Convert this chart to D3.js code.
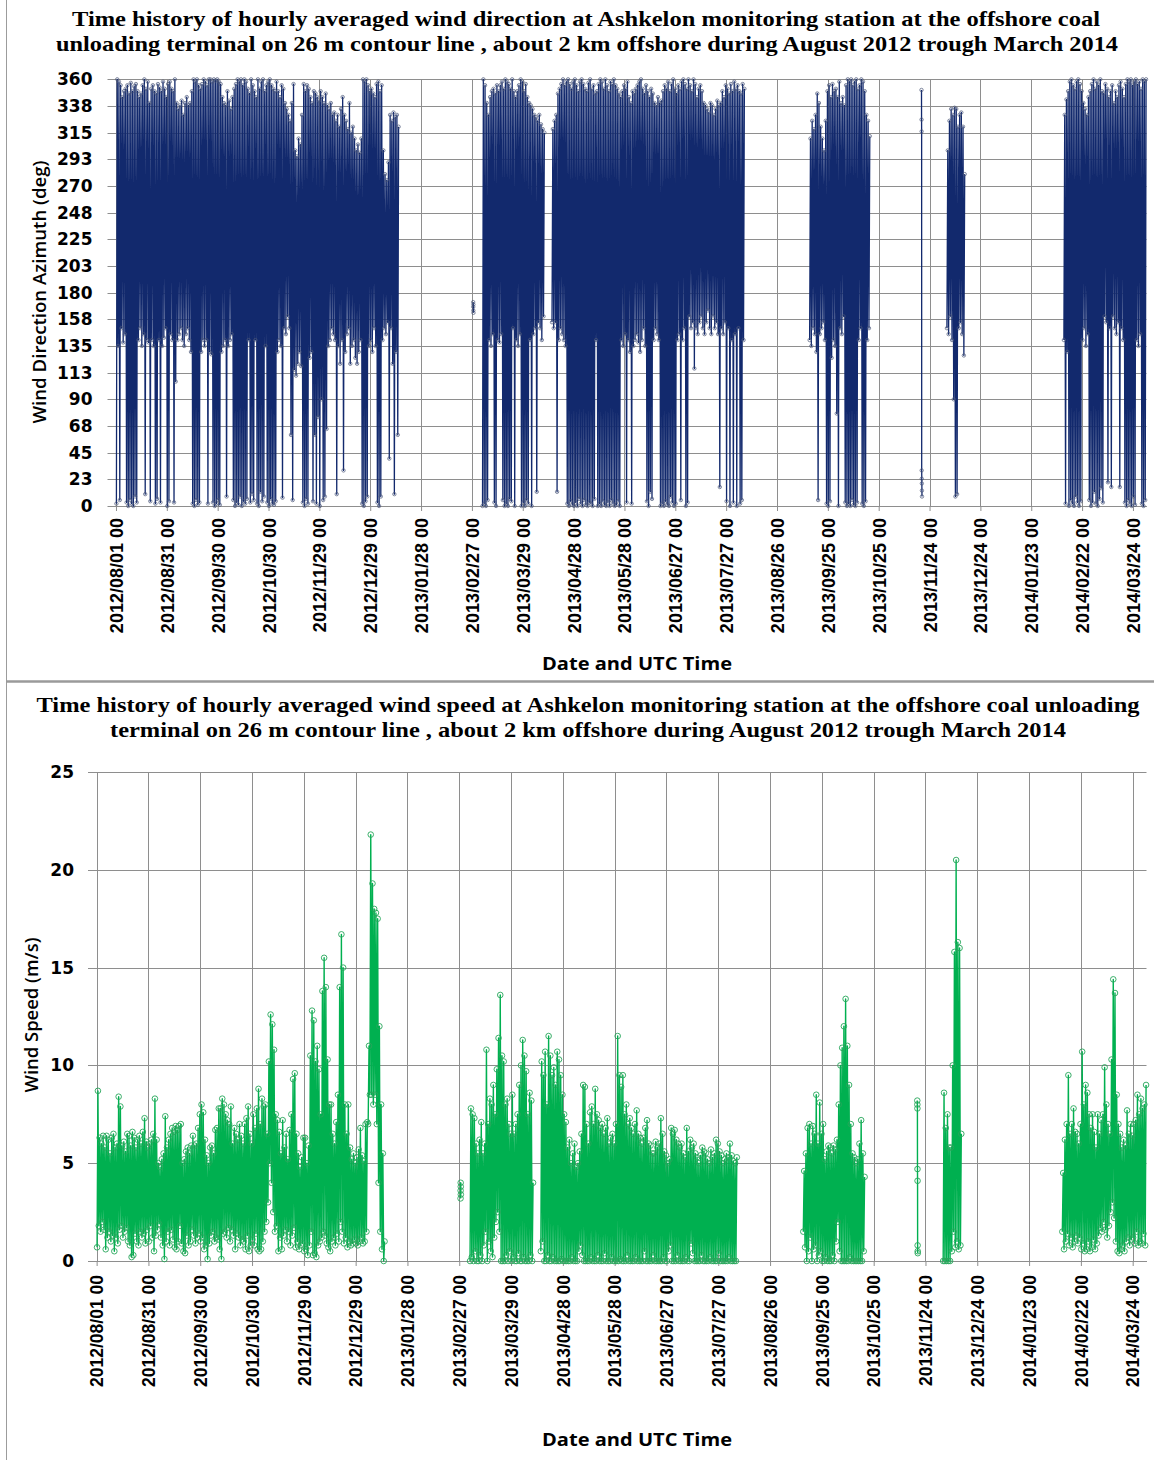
<!DOCTYPE html>
<html>
<head>
<meta charset="utf-8">
<script src="https://cdn.jsdelivr.net/npm/d3@7"></script>
<style>
  html, body { margin: 0; padding: 0; background: #fff; }
  svg { display: block; }
</style>
</head>
<body>
<svg id="chart" width="1154" height="1460"></svg>
<script>
// ---------------------------------------------------------------
// Axis ticks
// ---------------------------------------------------------------
const tickLabels = ["2012/08/01","2012/08/31","2012/09/30","2012/10/30","2012/11/29","2012/12/29",
  "2013/01/28","2013/02/27","2013/03/29","2013/04/28","2013/05/28","2013/06/27","2013/07/27",
  "2013/08/26","2013/09/25","2013/10/25","2013/11/24","2013/12/24","2014/01/23","2014/02/22","2014/03/24"];
const axisStart = "2012/07/27";
const axisEnd = "2014/04/01";
const directionTicks = [0,22.5,45,67.5,90,112.5,135,157.5,180,202.5,225,247.5,270,292.5,315,337.5,360];
const speedTicks = [0,5,10,15,20,25];

// ---------------------------------------------------------------
// Wind direction (deg): daily lowest / highest hourly value per recording period
// ---------------------------------------------------------------
const dirMaxAug2012 = [
  360,358,355,345,350,352,355,348,357,350, 354,356,350,345,348,355,360,352,358,340,
  352,355,350,348,356,353,350,358,352,345, 356,358,352,350,360,340,335,338,342,330,
  340,345,338,340,350,360,358,360,355,352, 356,360,358,355,360,360,358,360,359,360,
  358,356,345,340,338,350,342,335,345,352, 356,360,358,360,355,360,358,352,348,360,
  355,350,345,360,352,358,360,350,355,358, 360,355,352,350,358,350,345,355,352,340,
  335,330,325,340,356,300,295,310,305,330, 356,350,355,352,345,340,350,348,345,342,
  350,345,340,348,338,335,340,330,332,325, 330,320,335,345,330,325,318,340,315,320,
  310,300,305,298,310,360,358,360,355,350, 352,348,345,356,358,350,355,300,280,275,
  290,330,325,332,328,330,320];
const dirMinAug2012 = [
  2,135,5,150,138,145,3,0,5,2, 0,8,3,140,150,135,145,10,140,138,
  4,140,135,2,6,140,3,135,142,150, 0,4,145,140,3,105,140,145,150,140,
  135,145,150,140,130,2,0,5,1,3, 130,140,135,140,2,130,128,3,0,2,
  5,1,130,135,140,8,135,140,145,5, 0,3,1,8,0,4,2,6,140,3,
  10,5,140,2,0,12,4,8,135,3, 0,6,2,1,4,130,140,135,7,150,
  145,160,150,60,5,115,110,120,130,118, 3,0,6,2,125,130,4,60,2,75,
  0,90,5,8,65,135,140,150,145,140, 10,135,120,140,30,130,145,150,120,135,
  140,125,120,130,140,2,0,4,8,135, 140,130,150,135,3,0,8,140,150,145,
  155,40,150,120,10,130,60];

const dirMaxMar2013 = [
  360,355,340,330,345,350,352,348,355,350, 355,358,352,360,358,356,352,360,350,345,
  350,355,360,358,350,356,345,340,338,335, 330,328,325,330,322,318,315];
const dirMinMar2013 = [
  0,2,0,5,140,135,145,3,0,140, 138,145,5,0,2,0,6,4,150,0,
  140,135,145,0,3,0,5,2,140,0, 145,150,12,155,150,140,160];

const dirMaxApr2013 = [
  318,325,330,348,352,356,360,355,358,360, 356,352,358,360,355,350,358,360,356,352,
  350,357,360,352,355,348,350,356,360,358, 352,360,355,350,358,356,360,355,352,348,
  345,350,355,352,358,345,340,350,348,352, 355,358,360,352,348,355,350,345,352,348,
  340,338,345,340,342,350,355,352,358,350, 356,360,352,348,355,352,358,360,356,352,
  360,355,350,360,356,345,352,355,350,340, 338,335,332,340,338,330,335,342,338,340,
  350,345,355,352,348,356,350,358,352,355, 350,348,356,352];
const dirMinApr2013 = [
  155,150,155,12,140,150,145,140,135,2, 0,4,1,0,3,0,6,2,0,5,
  1,0,3,2,0,6,140,0,2,0, 4,1,0,3,0,5,2,0,1,4,
  0,140,135,145,3,140,130,2,135,140, 145,138,130,140,150,135,4,0,12,6,
  140,150,145,140,0,2,0,4,1,0, 8,3,0,2,140,145,5,140,150,0,
  3,160,150,155,116,150,145,155,160,150, 145,155,165,150,145,160,150,155,145,16,
  150,145,155,4,150,0,140,3,145,0, 150,2,5,140];

const dirMaxSep2013 = [
  310,325,318,330,348,340,320,310,300,325, 350,355,345,356,350,352,345,358,340,345,
  338,355,360,358,360,355,358,360,352,355, 360,358,350,330,325,312];
const dirMinSep2013 = [
  140,135,150,145,130,5,145,150,155,140, 2,0,4,125,140,135,78,0,150,145,
  160,3,0,2,0,5,1,0,3,140, 150,2,0,4,140,150];

const dirMaxDec2013 = [300,325,335,330,336,335,320,330,332,320,280];
const dirMinDec2013 = [150,145,160,140,90,8,10,150,155,145,127];

const dirMaxFeb2014 = [
  330,343,350,358,360,355,352,358,360,356, 350,340,335,330,345,350,356,360,352,358,
  355,360,350,348,356,352,345,350,355,340, 350,345,355,358,352,345,356,360,358,360,
  355,358,360,356,358,352,360,358,360];
const dirMinFeb2014 = [
  140,2,130,0,5,2,0,8,3,0, 4,140,150,135,145,5,0,3,12,2,
  0,6,15,3,160,155,20,150,16,160, 150,145,155,16,150,140,3,0,5,2,
  0,8,1,140,135,145,2,0,5];

// short hourly bursts
const dirHoursFeb27 = [172,168,165,170,163];
const dirHoursNov19 = [351,326,316,30,23,19,13,8];

// ---------------------------------------------------------------
// Wind speed (m/s): daily lowest / highest hourly value per recording period
// ---------------------------------------------------------------
const spdMaxAug2012 = [
  8.7,6.3,6.0,6.4,5.8,6.4,6.2,5.5,6.3,6.5, 5.8,6.0,8.4,7.9,5.9,6.1,5.6,6.5,6.4,5.9,
  6.6,6.3,5.8,6.2,6.4,6.0,6.6,7.3,6.1,5.8, 6.0,6.2,6.5,8.3,6.2,5.0,4.8,5.2,5.5,7.4,
  5.8,6.2,6.5,6.8,6.6,6.9,6.7,6.9,7.0,5.0, 5.2,5.6,5.8,5.5,5.9,6.4,5.9,6.0,6.8,7.5,
  8.0,7.6,6.2,5.4,5.0,5.8,5.9,5.5,6.7,6.8, 7.8,7.8,8.3,8.0,7.5,7.2,7.0,7.9,6.0,6.8,
  6.5,6.2,7.0,6.4,6.0,7.0,7.3,7.9,6.5,6.0, 7.5,6.8,7.8,8.8,7.0,8.3,7.9,8.0,6.5,10.2,
  12.6,12.1,10.8,7.5,7.2,6.6,5.5,7.2,5.8,6.5, 5.2,6.7,7.5,9.3,9.6,6.5,5.5,4.8,5.3,6.3,
  6.3,5.0,5.9,10.5,12.8,12.3,10.2,11.0,9.8,7.5, 13.8,15.5,14.0,10.3,8.0,8.0,6.5,6.0,7.1,8.5,
  14.0,16.7,15.0,8.0,6.5,8.0,5.8,5.2,5.5,5.0, 5.3,5.7,6.8,5.4,5.1,7.0,7.1,11.0,21.8,19.3,
  18.0,17.8,17.5,12.0,8.0,5.5,1.0];
const spdMinAug2012 = [
  0.7,1.8,1.5,2.0,1.6,0.6,1.2,1.5,1.0,1.3, 0.5,1.2,0.9,1.6,1.8,1.2,1.5,1.7,1.0,0.8,
  0.2,0.3,1.4,1.0,0.8,1.5,1.2,1.4,0.9,1.6, 1.0,1.8,1.2,0.5,1.3,1.6,1.9,1.2,0.8,0.1,
  1.0,1.5,0.8,1.6,1.1,0.7,0.6,1.0,1.8,0.9, 0.5,0.4,1.3,0.8,1.0,1.6,1.3,0.9,1.2,1.4,
  1.0,1.2,0.6,0.8,0.1,0.9,1.3,1.5,1.0,1.2, 1.1,0.6,0.1,1.4,1.5,1.2,1.7,1.0,1.6,1.3,
  0.6,1.4,1.2,0.8,1.1,1.0,0.6,1.3,0.5,0.8, 1.1,0.8,1.4,0.6,0.5,0.6,1.0,1.5,2.0,3.0,
  5.0,4.0,2.5,1.5,1.8,0.5,1.2,0.6,1.3,1.6, 1.0,1.5,0.8,1.3,1.7,0.7,1.0,0.6,0.8,0.9,
  0.5,0.6,0.3,0.8,1.5,0.3,0.4,0.2,0.8,1.0, 1.2,1.5,1.3,0.9,0.7,0.5,1.0,1.2,0.8,1.4,
  1.0,2.0,1.5,0.9,1.2,0.7,1.0,0.8,0.9,1.1, 0.9,0.8,1.0,1.2,0.9,1.0,1.5,7.0,8.5,8.5,
  8.0,8.5,7.0,4.0,1.5,0.6,0.0];

const spdMaxMar2013 = [
  7.8,7.5,7.3,6.0,5.5,6.2,7.1,5.5,6.0,10.8, 7.0,8.3,8.0,9.0,7.5,9.8,11.4,13.6,10.5,10.2,
  8.0,8.3,7.0,6.5,8.5,6.5,7.0,7.5,9.0,10.0, 11.3,10.5,9.7,7.5,8.6,8.2,4.0];
const spdMinMar2013 = [
  0.0,0.2,0.0,0.5,0.0,0.0,0.3,0.0,0.8,1.5, 0.0,1.0,0.5,0.2,1.2,2.0,2.5,1.5,0.0,0.0,
  0.0,0.3,0.0,0.5,0.0,0.2,0.0,0.0,0.4,0.0, 0.0,0.2,0.0,0.0,0.0,0.3,0.0];

const spdMaxApr2013 = [
  10.2,9.5,10.7,8.0,11.5,10.5,9.5,9.9,9.0,10.7, 10.3,9.5,8.5,7.5,7.1,5.8,6.2,5.0,5.5,6.0,
  4.8,5.0,5.6,6.5,9.0,8.9,7.0,6.0,7.6,7.9, 7.0,8.8,7.5,7.2,6.8,7.0,6.5,6.8,7.3,6.0,
  6.3,6.5,6.0,7.0,11.5,9.5,8.9,9.5,7.5,8.0, 7.0,7.3,6.8,6.5,7.0,7.7,6.5,6.3,6.0,6.3,
  6.8,7.2,6.0,5.9,5.5,5.5,6.1,5.8,6.0,7.3, 6.5,5.6,5.4,5.0,5.2,6.8,6.5,6.7,6.2,6.0,
  5.8,6.0,5.5,5.3,6.8,5.6,6.2,5.8,6.0,5.5, 5.3,5.0,5.4,5.8,5.6,5.5,5.2,5.0,5.7,5.3,
  5.5,6.2,6.0,5.6,5.4,5.0,5.2,5.5,5.3,6.0, 5.4,5.1,5.0,5.3];
const spdMinApr2013 = [
  0.5,1.0,0.0,0.0,0.3,0.0,0.0,0.2,0.0,0.0, 0.0,0.0,0.1,0.0,0.0,0.0,0.0,0.0,0.2,0.0,
  0.0,0.0,0.5,0.8,0.3,0.0,0.0,0.0,0.0,0.2, 0.0,0.0,0.0,0.3,0.0,0.0,0.0,0.4,0.0,0.0,
  0.0,0.2,0.0,0.0,0.0,0.0,0.1,0.0,0.0,0.0, 0.3,0.0,0.0,0.0,0.0,0.2,0.0,0.0,0.0,0.0,
  0.5,0.0,0.0,0.0,0.0,0.3,0.0,0.0,0.0,0.0, 0.0,0.2,0.0,0.0,0.5,0.8,0.0,0.0,0.0,0.3,
  0.0,0.0,0.0,0.0,0.2,0.0,0.0,0.9,0.4,0.0, 0.0,0.0,0.0,0.3,0.0,0.0,0.0,0.0,0.2,0.0,
  0.0,0.0,0.0,0.4,0.0,0.0,0.0,0.0,0.0,0.2, 0.0,0.0,0.0,0.0];

const spdMaxSep2013 = [
  4.6,5.5,6.8,7.0,6.0,6.9,6.5,8.5,6.0,8.1, 6.5,7.0,5.2,5.6,5.9,5.8,5.5,5.9,5.7,6.2,
  8.0,10.0,10.9,12.0,13.4,11.0,9.0,7.0,5.5,5.3, 5.0,5.2,6.0,7.2,5.5,4.3];
const spdMinSep2013 = [
  1.5,0.7,0.0,0.5,1.2,0.0,0.6,0.8,0.0,0.3, 0.5,0.0,0.0,0.2,0.0,0.0,0.0,0.3,0.0,1.0,
  2.0,0.5,0.0,0.0,0.0,0.0,0.0,0.2,0.0,0.0, 0.0,0.0,0.0,0.0,0.0,0.5];

const spdMaxDec2013 = [8.6,6.8,7.5,5.8,5.8,10.0,15.8,20.5,16.3,16.0,6.5];
const spdMinDec2013 = [0.0,0.0,0.0,0.0,0.0,0.5,1.5,0.7,1.0,0.6,0.8];

const spdMaxFeb2014 = [
  4.5,6.2,7.0,9.5,6.5,7.0,7.8,6.6,6.5,6.0, 7.0,10.7,8.0,9.0,8.6,7.5,6.8,7.5,6.6,5.8,
  7.5,6.5,7.2,7.5,9.9,8.0,7.0,6.5,10.3,14.4, 13.7,8.5,7.0,6.5,5.8,6.2,5.9,7.7,6.5,7.0,
  6.4,7.0,7.2,8.5,7.5,8.3,7.8,8.0,9.0];
const spdMinFeb2014 = [
  1.5,0.6,1.0,1.4,0.8,1.2,0.7,1.0,1.3,0.9, 1.2,0.6,0.9,0.5,0.6,1.0,0.5,0.7,1.1,0.6,
  0.9,1.3,1.7,1.5,2.0,1.6,1.2,1.8,2.5,3.0, 2.2,1.0,0.5,0.4,0.6,0.8,0.5,1.0,1.2,0.8,
  1.1,1.2,0.9,1.5,0.8,1.0,0.9,1.4,0.8];

const spdHoursFeb27 = [3.2,3.6,4.0,3.8,3.4];
const spdHoursNov19 = [8.2,8.0,7.8,4.7,4.1,0.8,0.5,0.4];

// recording periods (first day of each daily block)
const periodStarts = ["2012-08-01","2013-03-05","2013-04-15","2013-09-14","2013-12-04","2014-02-11"];
const burstStarts = ["2013-02-27T18","2013-11-19T06"];

// ---------------------------------------------------------------
// helpers
// ---------------------------------------------------------------
const parseTick = d3.utcParse("%Y/%m/%d");
const parseDay = d3.utcParse("%Y-%m-%d");
const parseHour = d3.utcParse("%Y-%m-%dT%H");

function dailyPoints(start, mins, maxs) {
  const t0 = parseDay(start);
  const pts = [];
  const n = Math.min(mins.length, maxs.length);
  for (let i = 0; i < n; i++) {
    pts.push({ t: d3.utcHour.offset(t0, i * 24 + 6), v: mins[i] });
    pts.push({ t: d3.utcHour.offset(t0, i * 24 + 18), v: maxs[i] });
  }
  return pts;
}
function hourlyPoints(start, values) {
  const t0 = parseHour(start);
  return values.map((v, i) => ({ t: d3.utcHour.offset(t0, i), v }));
}

const directionRuns = [
  dailyPoints(periodStarts[0], dirMinAug2012, dirMaxAug2012),
  hourlyPoints(burstStarts[0], dirHoursFeb27),
  dailyPoints(periodStarts[1], dirMinMar2013, dirMaxMar2013),
  dailyPoints(periodStarts[2], dirMinApr2013, dirMaxApr2013),
  dailyPoints(periodStarts[3], dirMinSep2013, dirMaxSep2013),
  hourlyPoints(burstStarts[1], dirHoursNov19),
  dailyPoints(periodStarts[4], dirMinDec2013, dirMaxDec2013),
  dailyPoints(periodStarts[5], dirMinFeb2014, dirMaxFeb2014)
];
const speedRuns = [
  dailyPoints(periodStarts[0], spdMinAug2012, spdMaxAug2012),
  hourlyPoints(burstStarts[0], spdHoursFeb27),
  dailyPoints(periodStarts[1], spdMinMar2013, spdMaxMar2013),
  dailyPoints(periodStarts[2], spdMinApr2013, spdMaxApr2013),
  dailyPoints(periodStarts[3], spdMinSep2013, spdMaxSep2013),
  hourlyPoints(burstStarts[1], spdHoursNov19),
  dailyPoints(periodStarts[4], spdMinDec2013, spdMaxDec2013),
  dailyPoints(periodStarts[5], spdMinFeb2014, spdMaxFeb2014)
];

// ---------------------------------------------------------------
// drawing
// ---------------------------------------------------------------
const svg = d3.select("#chart");
svg.append("rect").attr("width", 1154).attr("height", 1460).attr("fill", "#fff");

const gridColor = "#8e8e8e";
const tickDates = tickLabels.map(parseTick);

function drawPanel(p) {
  const x = d3.scaleUtc().domain([parseTick(axisStart), parseTick(axisEnd)]).range([p.left, p.right]);
  const y = d3.scaleLinear().domain([0, p.yMax]).range([p.bottom, p.top]);
  const g = svg.append("g");

  // gridlines
  g.append("g").selectAll("line").data(p.yTicks).join("line")
    .attr("x1", p.left).attr("x2", p.right)
    .attr("y1", d => Math.round(y(d)) + 0.5).attr("y2", d => Math.round(y(d)) + 0.5)
    .attr("stroke", gridColor).attr("stroke-width", 1);
  g.append("g").selectAll("line").data(tickDates).join("line")
    .attr("x1", d => Math.round(x(d)) + 0.5).attr("x2", d => Math.round(x(d)) + 0.5)
    .attr("y1", p.top).attr("y2", p.bottom)
    .attr("stroke", gridColor).attr("stroke-width", 1);

  // x axis
  const xAxis = d3.axisBottom(x).tickValues(tickDates).tickSize(5).tickSizeOuter(0)
    .tickFormat(d3.utcFormat("%Y/%m/%d 00"));
  const gx = g.append("g").attr("transform", `translate(0,${p.bottom})`).call(xAxis);
  gx.select(".domain").attr("stroke", gridColor);
  gx.selectAll(".tick line").attr("stroke", gridColor);
  gx.selectAll(".tick text")
    .attr("transform", "rotate(-90)")
    .attr("text-anchor", "end")
    .attr("x", -p.xLabelGap).attr("y", 0).attr("dy", "0.36em")
    .attr("fill", "#000")
    .style("font-family", "'Liberation Sans', Arial, sans-serif")
    .style("font-weight", "bold")
    .style("font-size", p.xLabelSize + "px");

  // y axis labels
  const yAxis = d3.axisLeft(y).tickValues(p.yTicks).tickSize(0).tickPadding(p.yLabelGap)
    .tickFormat(p.yFormat);
  const gy = g.append("g").attr("transform", `translate(${p.left},0)`).call(yAxis);
  gy.select(".domain").remove();
  gy.selectAll(".tick text")
    .attr("fill", "#000")
    .style("font-family", "'DejaVu Sans', Verdana, sans-serif")
    .style("font-weight", "bold")
    .style("font-size", "17px");

  // series
  const line = d3.line().x(d => x(d.t)).y(d => y(d.v));
  const series = g.append("g");
  p.runs.forEach(run => {
    series.append("path").datum(run)
      .attr("d", line)
      .attr("fill", "none")
      .attr("stroke", p.lineColor)
      .attr("stroke-width", p.lineWidth)
      .attr("stroke-linejoin", "round");
  });
  const markers = g.append("g");
  p.runs.forEach(run => {
    markers.append("g").selectAll("circle").data(run).join("circle")
      .attr("cx", d => x(d.t)).attr("cy", d => y(d.v))
      .attr("r", p.markerR)
      .attr("fill", "none")
      .attr("stroke", p.markerColor)
      .attr("stroke-width", p.markerWidth);
  });

  // titles
  const t = svg.append("g")
    .style("font-family", "'Liberation Serif', 'Times New Roman', serif")
    .style("font-weight", "bold")
    .style("font-size", "21px");
  p.title.forEach(tl => {
    t.append("text").attr("x", tl.cx).attr("y", tl.y).attr("text-anchor", "middle")
      .attr("textLength", tl.w).attr("lengthAdjust", "spacingAndGlyphs")
      .text(tl.text);
  });

  svg.append("text")
    .attr("transform", `translate(${p.yTitleX},${p.yTitleY}) rotate(-90)`)
    .attr("text-anchor", "middle")
    .attr("textLength", p.yTitleW).attr("lengthAdjust", "spacingAndGlyphs")
    .style("font-family", "'Open Sans', sans-serif")
    .style("font-weight", "600")
    .style("font-size", "18px")
    .text(p.yTitle);

  svg.append("text")
    .attr("x", 637).attr("y", p.xTitleY).attr("text-anchor", "middle")
    .attr("textLength", 190).attr("lengthAdjust", "spacingAndGlyphs")
    .style("font-family", "'Open Sans', sans-serif")
    .style("font-weight", "bold")
    .style("font-size", "17px")
    .text("Date and UTC Time");
}

// panel frames
svg.append("line").attr("x1", 6.5).attr("x2", 6.5).attr("y1", 0).attr("y2", 1460)
  .attr("stroke", "#9c9c9c").attr("stroke-width", 1);
svg.append("line").attr("x1", 6).attr("x2", 1154).attr("y1", 681.5).attr("y2", 681.5)
  .attr("stroke", "#9a9a9a").attr("stroke-width", 2.5);

drawPanel({
  left: 107.5, right: 1146.5, top: 79.3, bottom: 506,
  yMax: 360, yTicks: directionTicks, yFormat: d => String(Math.round(d)),
  yLabelGap: 15, xLabelGap: 12, xLabelSize: 18,
  runs: directionRuns,
  lineColor: "#12296d", lineWidth: 1.3,
  markerColor: "#4a5677", markerR: 1.7, markerWidth: 0.7,
  title: [
    { text: "Time history of  hourly averaged wind direction at Ashkelon monitoring station  at the offshore coal", cx: 586, y: 26, w: 1028 },
    { text: "unloading terminal on 26 m contour line , about 2 km offshore during August 2012 trough  March 2014", cx: 587, y: 51, w: 1062 }
  ],
  yTitle: "Wind Direction Azimuth (deg)", yTitleX: 46, yTitleY: 292, yTitleW: 263,
  xTitleY: 670
});

drawPanel({
  left: 88, right: 1146.5, top: 772, bottom: 1261,
  yMax: 25, yTicks: speedTicks, yFormat: d => String(d),
  yLabelGap: 14, xLabelGap: 14, xLabelSize: 17.5,
  runs: speedRuns,
  lineColor: "#00b050", lineWidth: 1.4,
  markerColor: "#27a65a", markerR: 2.8, markerWidth: 0.9,
  title: [
    { text: "Time history of  hourly averaged wind speed at Ashkelon monitoring station  at the offshore coal unloading", cx: 588, y: 712, w: 1103 },
    { text: "terminal on 26 m contour line , about 2 km offshore during August 2012 trough  March 2014", cx: 588, y: 737, w: 956 }
  ],
  yTitle: "Wind Speed (m/s)", yTitleX: 38, yTitleY: 1015, yTitleW: 155,
  xTitleY: 1446
});
</script>
</body>
</html>
